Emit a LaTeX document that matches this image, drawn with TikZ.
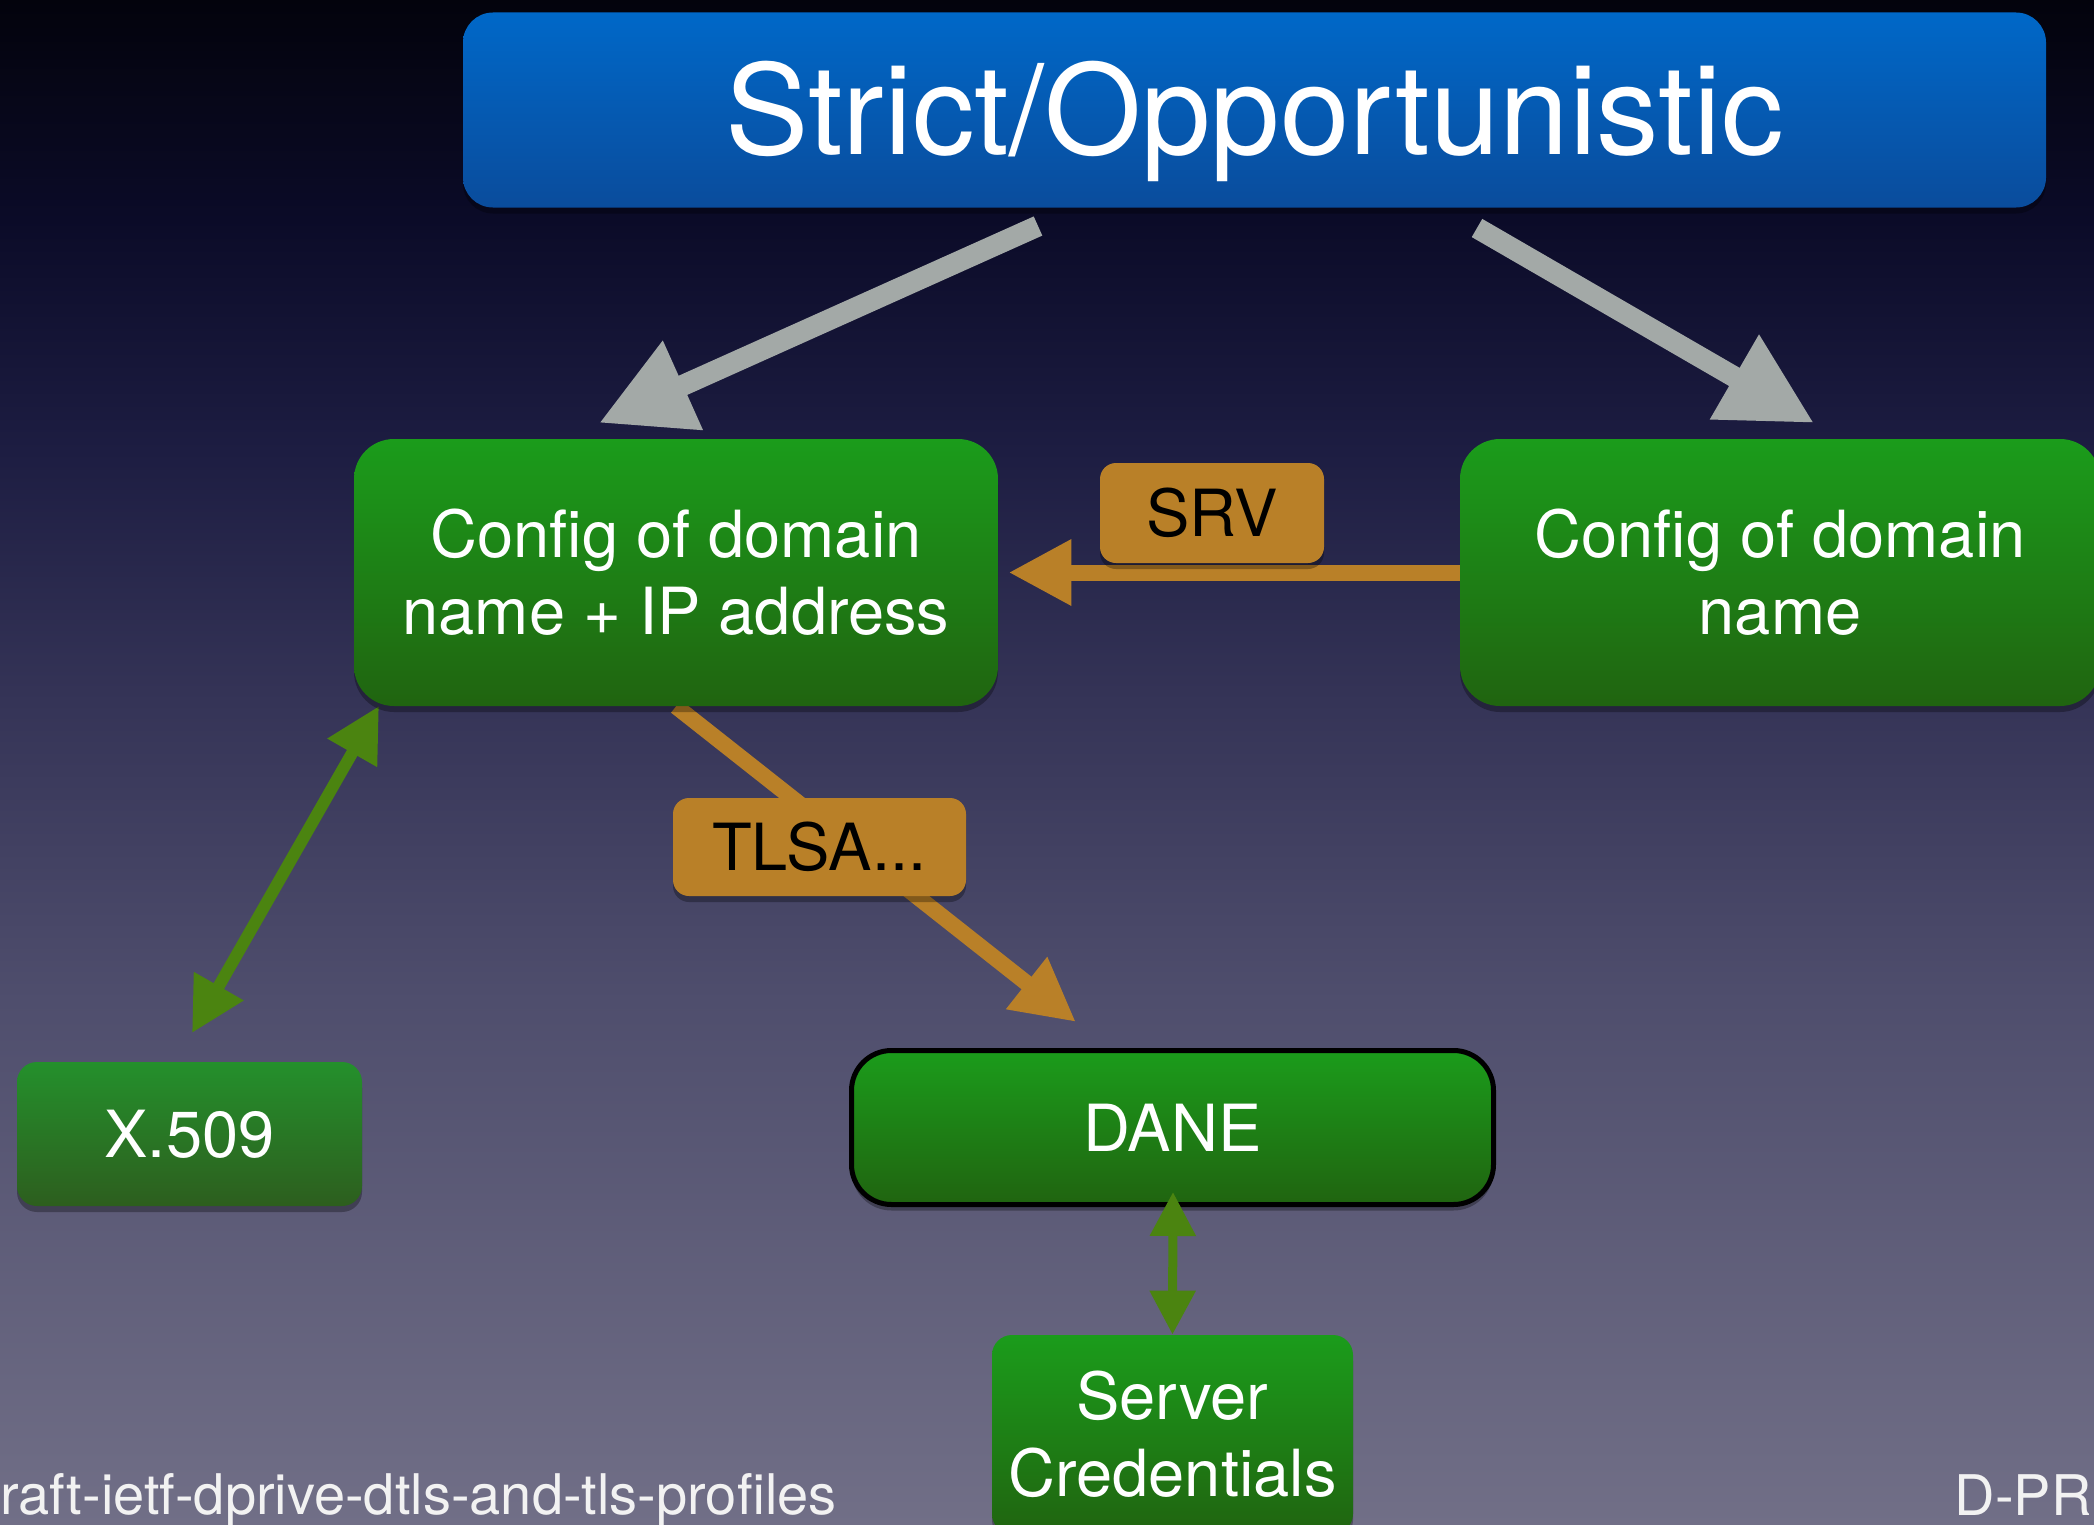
\documentclass[tikz,border=0pt]{standalone}
\usepackage{fontspec}
\setmainfont{TeX Gyre Heros}
\usetikzlibrary{arrows.meta,shadows,calc}
\definecolor{bg0}{HTML}{03030C}
\definecolor{bg1}{HTML}{0B0B28}
\definecolor{bg2}{HTML}{1D1D42}
\definecolor{bg3}{HTML}{353457}
\definecolor{bg4}{HTML}{4F4E6D}
\definecolor{bg5}{HTML}{716F87}
\definecolor{ttop}{HTML}{0068C8}
\definecolor{tbot}{HTML}{0A4C9C}
\definecolor{gtop}{HTML}{1B9C1B}
\definecolor{gbot}{HTML}{206410}
\definecolor{xtop}{HTML}{24902C}
\definecolor{xbot}{HTML}{2D5E1E}
\definecolor{orng}{HTML}{B98028}
\definecolor{agrey}{HTML}{A3A9A7}
\definecolor{agreen}{HTML}{4B8410}
\definecolor{foottext}{HTML}{F2F2F2}
\pgfdeclareverticalshading{slidebg}{100bp}{color(0bp)=(bg5); color(25bp)=(bg5); color(42.2bp)=(bg4); color(52bp)=(bg3); color(60.2bp)=(bg2); color(67.8bp)=(bg1); color(75bp)=(bg0); color(100bp)=(bg0)}
\pgfdeclarelayer{background}
\pgfdeclarelayer{links}
\pgfsetlayers{background,links,main}
\newcommand\ttlfont{\fontsize{62.5pt}{70pt}\selectfont}
\newcommand\bxfont{\fontsize{32.5pt}{38.5pt}\selectfont}
\newcommand\ftfont{\fontsize{28pt}{34pt}\selectfont}
\begin{document}
\begin{tikzpicture}[x=0.5pt,y=-0.5pt,
  softshadow/.style={drop shadow={shadow xshift=0pt,shadow yshift=-3pt,opacity=0.3,fill=black}},
  titlebox/.style={rounded corners=15pt,minimum width=791.5pt,minimum height=97.5pt,
    top color=ttop,bottom color=tbot,text=white,font=\ttlfont,
    text height=45pt,text depth=0pt,inner sep=0pt,softshadow},
  greenbox/.style={rounded corners=20pt,top color=gtop,bottom color=gbot,text=white,
    font=\bxfont,align=center,inner sep=0pt,softshadow},
  xcolors/.style={top color=xtop,bottom color=xbot},
  tagbox/.style={rounded corners=8pt,fill=orng,text=black,font=\bxfont,inner sep=0pt,softshadow},
  foot/.style={text=foottext,font=\ftfont,inner sep=0pt},
  greyarr/.style={draw=agrey,line width=10.5pt,-{Triangle[length=46pt,width=46pt]}},
  orarr/.style={draw=orng,line width=8pt,-{Triangle[length=31.5pt,width=31pt]}},
  grarr/.style={draw=agreen,line width=6pt,{Triangle[length=27pt,width=27pt]}-{Triangle[length=27pt,width=27pt]}},
  grarrsmall/.style={draw=agreen,line width=4.5pt,{Triangle[length=22pt,width=22pt]}-{Triangle[length=22pt,width=22pt]}}
]
\useasboundingbox (0,0) rectangle (2094,1525);
\begin{pgfonlayer}{background}
\shade[shading=slidebg] (0,0) rectangle (2094,1525);
\end{pgfonlayer}
\clip (0,0) rectangle (2094,1525);

% nodes
\node[titlebox] (title) at (1254.5,110) {Strict/Opportunistic};
\node[greenbox,minimum width=322pt,minimum height=133.5pt] (cfgip) at (676,572.5) {Config of domain\\name + IP address};
\node[greenbox,minimum width=320pt,minimum height=133.5pt] (cfgdn) at (1780,572.5) {Config of domain\\name};
\node[tagbox,minimum width=112pt,minimum height=50pt] (srv) at (1212,513) {SRV};
\node[tagbox,minimum width=146.5pt,minimum height=49pt] (tlsa) at (819.5,847) {TLSA...};
\node[greenbox,xcolors,rounded corners=10pt,minimum width=172.5pt,minimum height=72pt] (x509) at (189.5,1134) {X.509};
\node[greenbox,draw=black,line width=2.5pt,minimum width=321pt,minimum height=77pt] (dane) at (1172.5,1127.5) {DANE};
\node[greenbox,rounded corners=10pt,minimum width=180.5pt,minimum height=99.5pt] (cred) at (1172.5,1434.5) {Server\\Credentials};
\node[foot,anchor=base west] (footl) at (0,1514) {raft-ietf-dprive-dtls-and-tls-profiles};
\node[foot,anchor=base east] (footr) at (2092,1515) {D-PR};

% free connector ends
\coordinate (g1s) at (1038,226);
\coordinate (g1e) at (599,423);
\coordinate (g2s) at (1477,228);
\coordinate (g2e) at (1814,423);
\coordinate (tlsatip) at (1076,1022);
\coordinate (xtip) at (192,1033);
\coordinate (ctip) at (379,706);
\coordinate (danetip) at (1173,1192);

\begin{pgfonlayer}{links}
\draw[greyarr] (g1s) -- (g1e);
\draw[greyarr] (g2s) -- (g2e);
\draw[orarr,shorten >=5pt] (cfgdn.west) -- (cfgip.east);
\draw[orarr] (cfgip.south) -- (tlsatip);
\draw[grarr] (xtip) -- (ctip);
\end{pgfonlayer}
\draw[grarrsmall] (danetip) -- (cred.north);
\end{tikzpicture}
\end{document}
